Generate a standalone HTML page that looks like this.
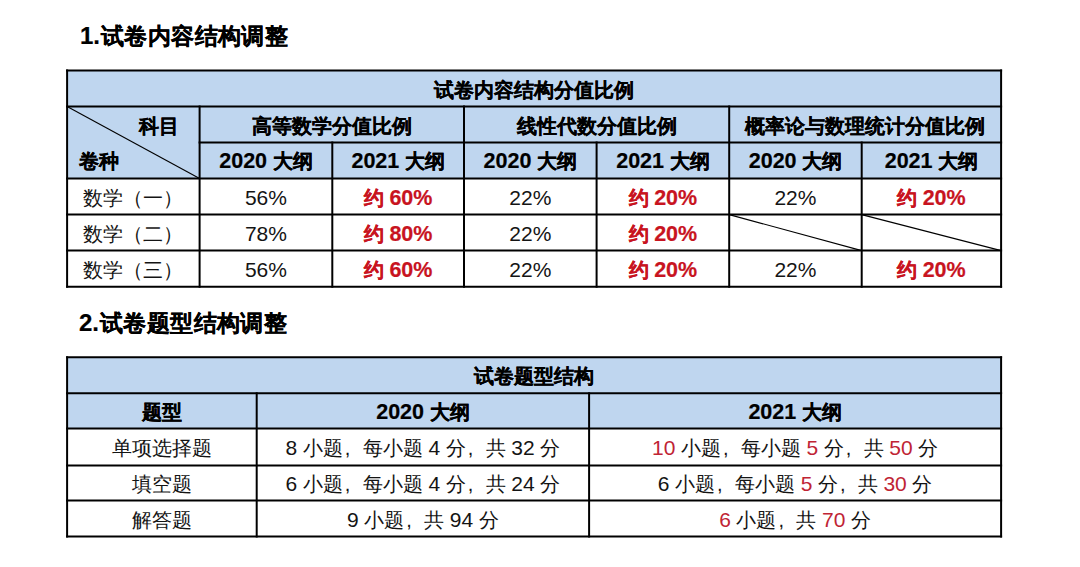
<!DOCTYPE html>
<html><head><meta charset="utf-8">
<style>
html,body{margin:0;padding:0;background:#fff;width:1080px;height:567px;overflow:hidden;position:relative;font-family:"Liberation Sans",sans-serif;color:#141414}
svg{position:absolute;left:0;top:0}
.h{position:absolute;font-weight:bold;font-size:23px;line-height:36px;white-space:nowrap;color:#000;letter-spacing:0.4px;-webkit-text-stroke:0.2px #000}
.h .n{font-size:24px;letter-spacing:0}
.t{position:absolute;white-space:nowrap;text-align:center;font-size:20px;line-height:36px}
.n{font-size:21px}
.nb{font-size:21.5px}
.b{font-weight:bold;color:#000;-webkit-text-stroke:0.2px #000}
.rb{color:#C8141F;-webkit-text-stroke-color:#C8141F}
.rr{color:#C02434}
.cm{display:inline-block;width:20px;text-indent:2px;text-align:left}
</style></head><body>
<svg width="1080" height="567">
<rect x="67.1" y="70.5" width="934.0" height="108.0" fill="#BFD6EF"/><rect x="67.1" y="357.3" width="934.0" height="71.19999999999999" fill="#BFD6EF"/>
<g stroke="#000" stroke-width="2.0" stroke-linecap="butt"><line x1="66.1" y1="70.5" x2="1002.1" y2="70.5"/><line x1="66.1" y1="106.5" x2="1002.1" y2="106.5"/><line x1="198.6" y1="142.5" x2="1002.1" y2="142.5"/><line x1="66.1" y1="178.5" x2="1002.1" y2="178.5"/><line x1="66.1" y1="214.6" x2="1002.1" y2="214.6"/><line x1="66.1" y1="250.6" x2="1002.1" y2="250.6"/><line x1="66.1" y1="286.7" x2="1002.1" y2="286.7"/><line x1="67.1" y1="69.5" x2="67.1" y2="287.7"/><line x1="1001.1" y1="69.5" x2="1001.1" y2="287.7"/><line x1="199.6" y1="105.5" x2="199.6" y2="287.7"/><line x1="464.0" y1="105.5" x2="464.0" y2="287.7"/><line x1="729.2" y1="105.5" x2="729.2" y2="287.7"/><line x1="596.6" y1="141.5" x2="596.6" y2="287.7"/><line x1="861.7" y1="141.5" x2="861.7" y2="287.7"/><line x1="332.3" y1="141.5" x2="332.3" y2="287.7"/><line x1="66.1" y1="357.3" x2="1002.1" y2="357.3"/><line x1="66.1" y1="393.3" x2="1002.1" y2="393.3"/><line x1="66.1" y1="428.5" x2="1002.1" y2="428.5"/><line x1="66.1" y1="465.5" x2="1002.1" y2="465.5"/><line x1="66.1" y1="500.5" x2="1002.1" y2="500.5"/><line x1="66.1" y1="536.5" x2="1002.1" y2="536.5"/><line x1="67.1" y1="356.3" x2="67.1" y2="537.5"/><line x1="1001.1" y1="356.3" x2="1001.1" y2="537.5"/><line x1="256.7" y1="392.3" x2="256.7" y2="537.5"/><line x1="589.1" y1="392.3" x2="589.1" y2="537.5"/></g>
<g stroke="#000" stroke-width="1.1"><line x1="67.1" y1="106.5" x2="199.6" y2="178.5"/><line x1="729.2" y1="214.6" x2="861.7" y2="250.6"/><line x1="861.7" y1="214.6" x2="1001.1" y2="250.6"/></g>
</svg>
<div class="h" style="left:80px;top:18px"><span class="n" style="margin-right:1px">1.</span>试卷内容结构调整</div>
<div class="h" style="left:79px;top:305px"><span class="n" style="margin-right:1px">2.</span>试卷题型结构调整</div>
<div class="t b" style="left:67.1px;top:71.6px;width:934.0px">试卷内容结构分值比例</div>
<div class="t b" style="left:138.5px;top:107.6px;text-align:left">科目</div>
<div class="t b" style="left:79px;top:142.6px;text-align:left">卷种</div>
<div class="t b" style="left:199.6px;top:107.6px;width:264.4px">高等数学分值比例</div>
<div class="t b" style="left:464.0px;top:107.6px;width:265.2px">线性代数分值比例</div>
<div class="t b" style="left:729.2px;top:107.6px;width:271.9px">概率论与数理统计分值比例</div>
<div class="t b" style="left:199.6px;top:142.6px;width:132.7px"><span class="nb">2020</span> 大纲</div>
<div class="t b" style="left:332.3px;top:142.6px;width:131.7px"><span class="nb">2021</span> 大纲</div>
<div class="t b" style="left:464.0px;top:142.6px;width:132.6px"><span class="nb">2020</span> 大纲</div>
<div class="t b" style="left:596.6px;top:142.6px;width:132.6px"><span class="nb">2021</span> 大纲</div>
<div class="t b" style="left:729.2px;top:142.6px;width:132.5px"><span class="nb">2020</span> 大纲</div>
<div class="t b" style="left:861.7px;top:142.6px;width:139.4px"><span class="nb">2021</span> 大纲</div>
<div class="t " style="left:67.1px;top:179.6px;width:132.5px">数学（一）</div>
<div class="t " style="left:199.6px;top:179.6px;width:132.7px"><span class="n">56%</span></div>
<div class="t b rb" style="left:332.3px;top:179.6px;width:131.7px">约 <span class="nb">60%</span></div>
<div class="t " style="left:464.0px;top:179.6px;width:132.6px"><span class="n">22%</span></div>
<div class="t b rb" style="left:596.6px;top:179.6px;width:132.6px">约 <span class="nb">20%</span></div>
<div class="t " style="left:729.2px;top:179.6px;width:132.5px"><span class="n">22%</span></div>
<div class="t b rb" style="left:861.7px;top:179.6px;width:139.4px">约 <span class="nb">20%</span></div>
<div class="t " style="left:67.1px;top:215.6px;width:132.5px">数学（二）</div>
<div class="t " style="left:199.6px;top:215.6px;width:132.7px"><span class="n">78%</span></div>
<div class="t b rb" style="left:332.3px;top:215.6px;width:131.7px">约 <span class="nb">80%</span></div>
<div class="t " style="left:464.0px;top:215.6px;width:132.6px"><span class="n">22%</span></div>
<div class="t b rb" style="left:596.6px;top:215.6px;width:132.6px">约 <span class="nb">20%</span></div>
<div class="t " style="left:67.1px;top:251.6px;width:132.5px">数学（三）</div>
<div class="t " style="left:199.6px;top:251.6px;width:132.7px"><span class="n">56%</span></div>
<div class="t b rb" style="left:332.3px;top:251.6px;width:131.7px">约 <span class="nb">60%</span></div>
<div class="t " style="left:464.0px;top:251.6px;width:132.6px"><span class="n">22%</span></div>
<div class="t b rb" style="left:596.6px;top:251.6px;width:132.6px">约 <span class="nb">20%</span></div>
<div class="t " style="left:729.2px;top:251.6px;width:132.5px"><span class="n">22%</span></div>
<div class="t b rb" style="left:861.7px;top:251.6px;width:139.4px">约 <span class="nb">20%</span></div>
<div class="t b" style="left:67.1px;top:358.0px;width:934.0px">试卷题型结构</div>
<div class="t b" style="left:67.1px;top:394.1px;width:189.6px">题型</div>
<div class="t b" style="left:256.7px;top:394.1px;width:332.4px"><span class="nb">2020</span> 大纲</div>
<div class="t b" style="left:589.1px;top:394.1px;width:412.0px"><span class="nb">2021</span> 大纲</div>
<div class="t " style="left:67.1px;top:430.2px;width:189.6px">单项选择题</div>
<div class="t " style="left:256.7px;top:430.2px;width:332.4px"><span class="n">8</span> 小题<span class="cm">,</span>每小题 <span class="n">4</span> 分<span class="cm">,</span>共 <span class="n">32</span> 分</div>
<div class="t " style="left:589.1px;top:430.2px;width:412.0px"><span class="n rr">10</span> 小题<span class="cm">,</span>每小题 <span class="n rr">5</span> 分<span class="cm">,</span>共 <span class="n rr">50</span> 分</div>
<div class="t " style="left:67.1px;top:466.3px;width:189.6px">填空题</div>
<div class="t " style="left:256.7px;top:466.3px;width:332.4px"><span class="n">6</span> 小题<span class="cm">,</span>每小题 <span class="n">4</span> 分<span class="cm">,</span>共 <span class="n">24</span> 分</div>
<div class="t " style="left:589.1px;top:466.3px;width:412.0px"><span class="n">6</span> 小题<span class="cm">,</span>每小题 <span class="n rr">5</span> 分<span class="cm">,</span>共 <span class="n rr">30</span> 分</div>
<div class="t " style="left:67.1px;top:502.4px;width:189.6px">解答题</div>
<div class="t " style="left:256.7px;top:502.4px;width:332.4px"><span class="n">9</span> 小题<span class="cm">,</span>共 <span class="n">94</span> 分</div>
<div class="t " style="left:589.1px;top:502.4px;width:412.0px"><span class="n rr">6</span> 小题<span class="cm">,</span>共 <span class="n rr">70</span> 分</div>
</body></html>
